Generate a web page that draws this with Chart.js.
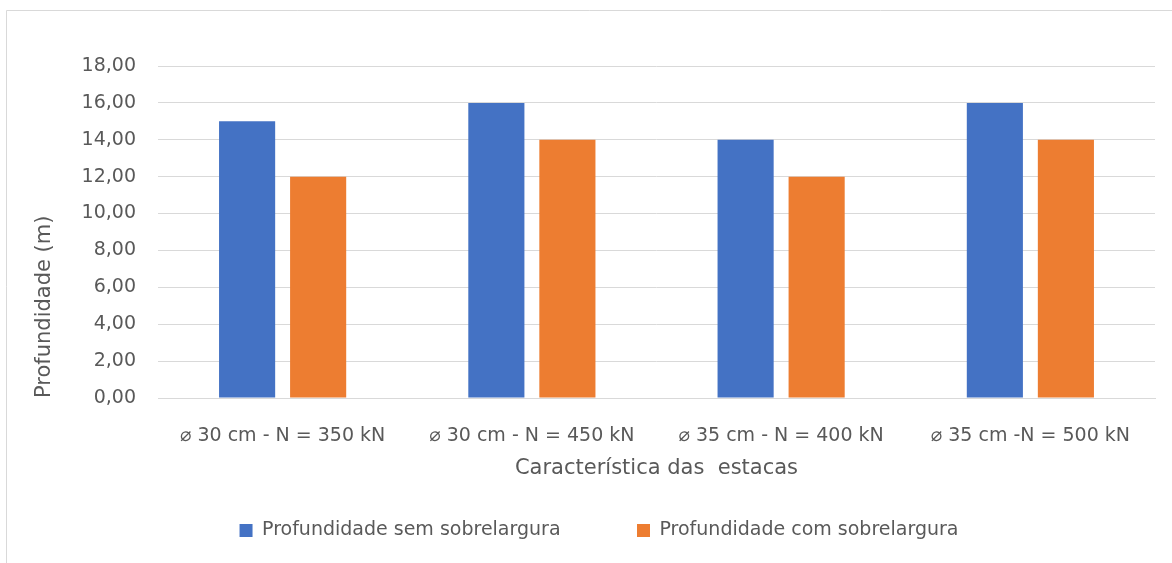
<!DOCTYPE html>
<html>
<head>
<meta charset="utf-8">
<script src="https://cdn.jsdelivr.net/npm/chart.js@4/dist/chart.umd.min.js"></script>
<style>
  html, body { margin: 0; padding: 0; background: #fff; }
  #wrap { position: relative; width: 1172px; height: 563px; }
</style>
</head>
<body>
<div id="wrap"><canvas id="chart" width="1172" height="563"></canvas></div>
<script>
// dados das estacas
const categorias = ['⌀ 30 cm - N = 350 kN', '⌀ 30 cm - N = 450 kN', '⌀ 35 cm - N = 400 kN', '⌀ 35 cm -N = 500 kN'];
const semSobrelargura = [15, 16, 14, 16];
const comSobrelargura = [12, 14, 12, 14];
const nomesSeries = ['Profundidade sem sobrelargura', 'Profundidade com sobrelargura'];

const cinza = '#595959';
const fonte = '"DejaVu Sans", sans-serif';

// fundo branco e moldura fina do gráfico
const moldura = {
  id: 'moldura',
  beforeDraw(chart) {
    const c = chart.ctx;
    c.save();
    c.fillStyle = '#fff';
    c.fillRect(0, 0, chart.width, chart.height);
    c.strokeStyle = '#d9d9d9';
    c.lineWidth = 1;
    c.beginPath();
    c.moveTo(6.5, chart.height);
    c.lineTo(6.5, 10.5);
    c.lineTo(chart.width, 10.5);
    c.stroke();
    c.restore();
  }
};

new Chart(document.getElementById('chart').getContext('2d'), {
  type: 'bar',
  data: {
    labels: categorias,
    datasets: [
      { label: nomesSeries[0], data: semSobrelargura, backgroundColor: '#4472C4' },
      { label: nomesSeries[1], data: comSobrelargura, backgroundColor: '#ED7D31' }
    ]
  },
  options: {
    responsive: false,
    animation: false,
    categoryPercentage: 0.57,
    barPercentage: 0.79,
    layout: { padding: { top: 66, right: 17, bottom: 13, left: 43 } },
    plugins: {
      tooltip: { enabled: false },
      legend: {
        position: 'bottom',
        labels: {
          font: { family: fonte, size: 19 },
          color: cinza,
          boxWidth: 13,
          boxHeight: 13,
          padding: 10,
          // espaço extra entre os dois itens da legenda
          generateLabels(chart) {
            const itens = Chart.defaults.plugins.legend.labels.generateLabels(chart);
            itens[0].text = itens[0].text + '           ';
            return itens;
          }
        }
      }
    },
    scales: {
      x: {
        grid: { display: false },
        border: { color: '#d9d9d9' },
        ticks: { font: { family: fonte, size: 19 }, color: cinza, padding: 19 },
        title: {
          display: true,
          text: 'Característica das  estacas',
          font: { family: fonte, size: 21 },
          color: cinza,
          padding: { top: 0, bottom: 30 }
        },
        afterFit(scale) { scale.height = 113; }
      },
      y: {
        min: 0,
        max: 18,
        ticks: {
          stepSize: 2,
          font: { family: fonte, size: 19 },
          color: cinza,
          padding: 22,
          callback: v => v.toFixed(2).replace('.', ',')
        },
        grid: { color: '#d9d9d9', drawTicks: false },
        border: { display: false },
        title: {
          display: true,
          text: 'Profundidade (m)',
          align: 'start',
          font: { family: fonte, size: 21 },
          color: cinza,
          padding: { top: -11, bottom: 0 }
        },
        afterFit(scale) { scale.width = 115; }
      }
    }
  },
  plugins: [moldura]
});
</script>
</body>
</html>
